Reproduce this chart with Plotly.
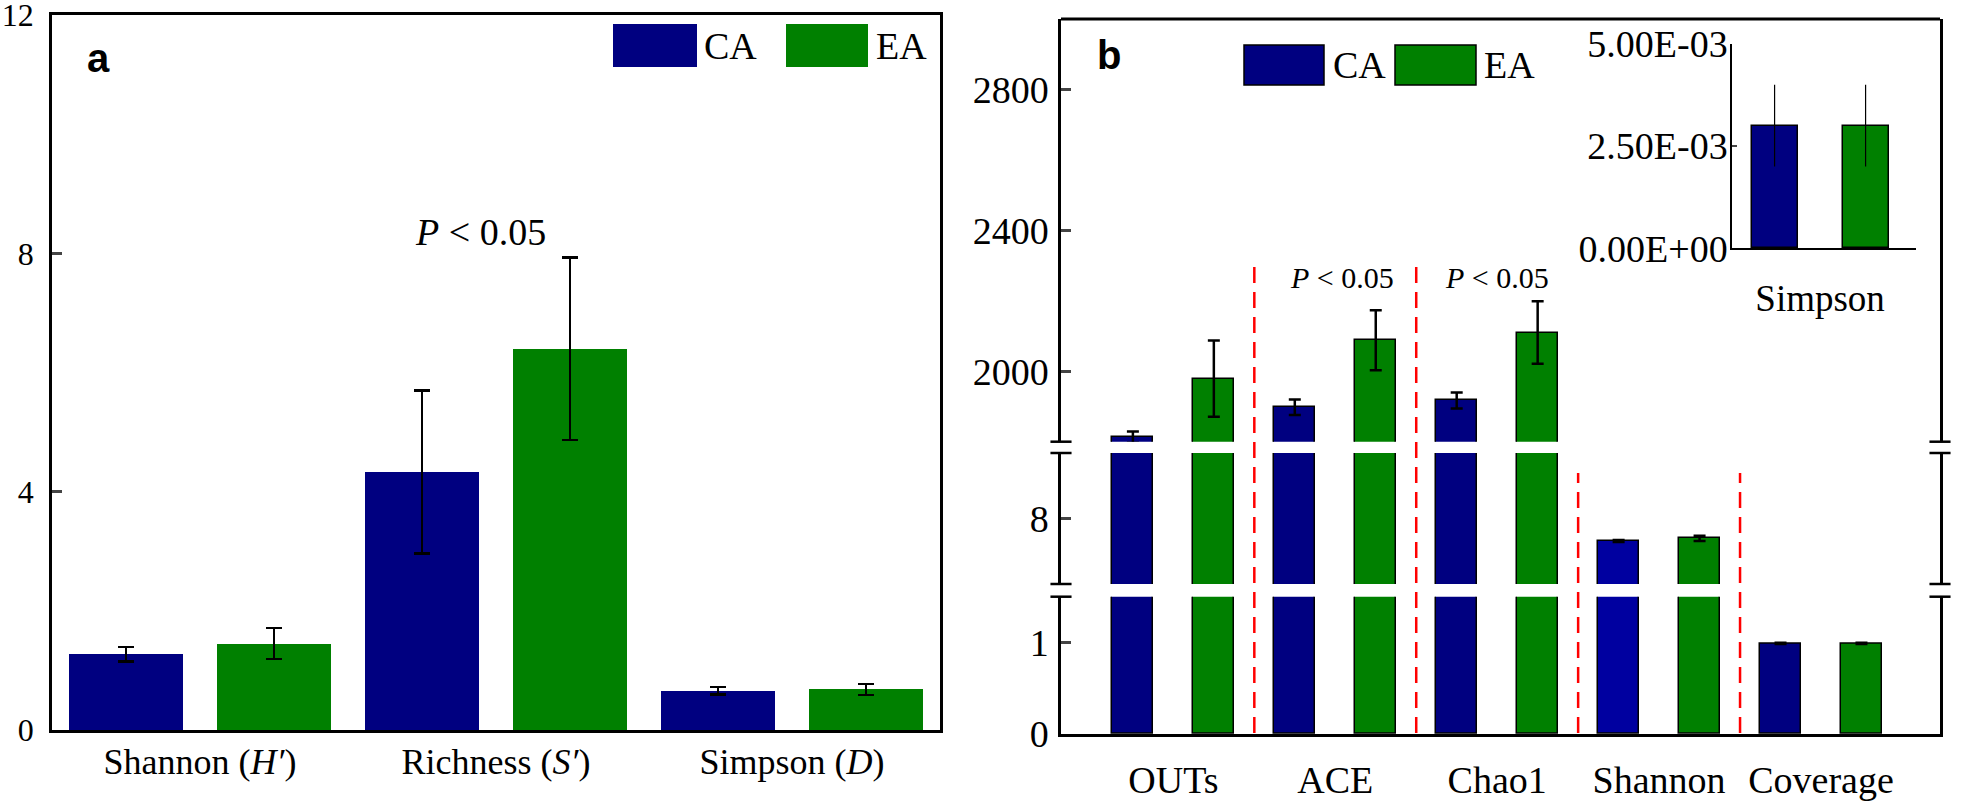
import plotly.graph_objects as go

# panel a
a_metrics = ["Shannon", "Richness", "Simpson"]
a_labels = ["Shannon (<i>H′</i>)", "Richness (<i>S′</i>)", "Simpson (<i>D</i>)"]
a_ca = [1.27, 4.33, 0.66]
a_ca_err = [0.12, 1.37, 0.065]
a_ea = [1.45, 6.40, 0.68]
a_ea_err = [0.26, 1.53, 0.095]

# panel b (broken y axis)
b_metrics = ["OUTs", "ACE", "Chao1", "Shannon", "Coverage"]
b_ca = [1813, 1898, 1917, 7.31, 0.99]
b_ca_err = [16, 22, 23, 0.03, 0.006]
b_ea = [1979, 2088, 2110, 7.39, 0.99]
b_ea_err = [108, 85, 89, 0.08, 0.006]

# inset
inset_metric = ["Simpson"]
inset_ca = [0.0030]
inset_ca_err = [0.001]
inset_ea = [0.0030]
inset_ea_err = [0.001]

NAVY = "#000080"
GREEN = "#008000"
SERIF = "Liberation Serif"

W, H = 1961, 804


def fx(px):
    return px / W


def fy(py):
    return 1 - py / H


fig = go.Figure()


def add_pair(x, ca, ca_err, ea, ea_err, xa, ya, w, line_w, ebar_w, cap, ca_colors=None):
    fig.add_trace(go.Bar(
        x=x, y=ca, xaxis=xa, yaxis=ya, width=w, offset=-0.25 - w / 2,
        marker=dict(color=ca_colors or NAVY, line=dict(color="black", width=line_w)),
        error_y=dict(type="data", array=ca_err, color="black", thickness=ebar_w, width=cap),
        showlegend=False))
    fig.add_trace(go.Bar(
        x=x, y=ea, xaxis=xa, yaxis=ya, width=w, offset=0.25 - w / 2,
        marker=dict(color=GREEN, line=dict(color="black", width=line_w)),
        error_y=dict(type="data", array=ea_err, color="black", thickness=ebar_w, width=cap),
        showlegend=False))


add_pair(a_metrics, a_ca, a_ca_err, a_ea, a_ea_err, "x", "y", 0.385, 0, 2.5, 8)
b_ca_colors = [NAVY, NAVY, NAVY, "#0000a0", NAVY]
for ya in ["y2", "y3", "y4"]:
    add_pair(b_metrics, b_ca, b_ca_err, b_ea, b_ea_err, "x2", ya, 0.253, 1.5, 2.5, 6, b_ca_colors)
add_pair(inset_metric, inset_ca, inset_ca_err, inset_ea, inset_ea_err, "x3", "y5", 0.253, 1.5, 1.2, 0)

font_a = dict(family=SERIF, size=32, color="black")
font_b = dict(family=SERIF, size=38, color="black")


def seg_axis(top, bottom, rng, vals):
    return dict(domain=[fy(bottom), fy(top)], anchor="x2", range=rng, tickvals=vals,
                showline=True, mirror=True, linecolor="black", linewidth=2.5, ticks="inside",
                ticklen=10, tickwidth=3, showgrid=False, zeroline=False, tickfont=font_b,
                ticklabelstandoff=2, automargin=False, ticklabeloverflow="allow")


fig.update_layout(
    width=W, height=H, margin=dict(l=0, r=0, t=0, b=0, autoexpand=False),
    paper_bgcolor="white", plot_bgcolor="rgba(0,0,0,0)",
    barmode="overlay", bargap=0, bargroupgap=0,
    font=dict(family=SERIF, color="black"),
    xaxis=dict(domain=[fx(52), fx(940)], anchor="y", type="category", range=[-0.5, 2.5],
               tickvals=a_metrics, ticktext=a_labels, showline=True, mirror=True,
               linecolor="black", linewidth=3, ticks="", showgrid=False,
               tickfont=dict(family=SERIF, size=36), ticklabelstandoff=-2, automargin=False,
               ticklabeloverflow="allow"),
    yaxis=dict(domain=[fy(730), fy(15)], anchor="x", range=[0, 12], tickvals=[0, 4, 8, 12],
               showline=True, mirror=True, linecolor="black", linewidth=2.5, ticks="inside",
               ticklen=10, tickwidth=3, showgrid=False, zeroline=False, tickfont=font_a,
               ticklabelstandoff=9, automargin=False, ticklabeloverflow="allow"),
    xaxis2=dict(domain=[fx(1061), fx(1940)], anchor="y2", type="category",
                range=[-0.694, 4.735], showline=True, linecolor="black", linewidth=3,
                ticks="", showgrid=False, tickfont=dict(family=SERIF, size=38),
                ticklabelstandoff=10, automargin=False, ticklabeloverflow="allow"),
    yaxis2=seg_axis(596.7, 734, [0, 1.5], [0, 1]),
    yaxis3=seg_axis(453, 584, [6, 10], [8]),
    yaxis4=seg_axis(19, 441.7, [1800, 3000], [2000, 2400, 2800]),
    xaxis3=dict(domain=[fx(1732), fx(1916)], anchor="y5", type="category",
                range=[-0.484, 0.527], showline=True, linecolor="black", linewidth=2,
                ticks="", showgrid=False, tickfont=dict(family=SERIF, size=37),
                ticklabelstandoff=16, automargin=False),
    yaxis5=dict(domain=[fy(248.3), fy(44)], anchor="x3", range=[0, 0.005],
                tickvals=[0, 0.0025, 0.005], ticktext=["0.00E+00", "2.50E-03", "5.00E-03"],
                showline=True, linecolor="black", linewidth=1.5, ticks="inside", ticklen=5,
                tickwidth=1.5, showgrid=False, zeroline=False,
                tickfont=dict(family=SERIF, size=38), ticklabelstandoff=-5, automargin=False,
                ticklabeloverflow="allow"),
)

shapes = []
# top border of panel b
shapes.append(dict(type="line", xref="x2 domain", yref="y4 domain", x0=0, x1=1, y0=1, y1=1,
                   line=dict(color="black", width=3)))
# break caps on the axis segments
for ya, yy in [("y4", 0), ("y3", 1), ("y3", 0), ("y2", 1)]:
    for xx, dx in [(0, 0.012), (1, -0.012)]:
        shapes.append(dict(type="line", xref="x2 domain", yref=ya + " domain",
                           x0=xx - dx, x1=xx + dx, y0=yy, y1=yy,
                           line=dict(color="black", width=2.5)))
# red dashed separators
for xv, ytop in [(0.5, 265), (1.5, 265), (2.5, 473), (3.5, 473)]:
    shapes.append(dict(type="line", xref="x2", yref="paper", x0=xv, x1=xv,
                       y0=fy(733), y1=fy(ytop),
                       line=dict(color="red", width=2.5, dash="16px,9px")))
# legend keys
for x0, x1, y0, y1, col, lw in [
    (613, 697, 24, 67, NAVY, 0), (786, 868, 24, 67, GREEN, 0),
    (1244, 1324, 45, 85, NAVY, 1.5), (1395, 1476, 45, 85, GREEN, 1.5),
]:
    shapes.append(dict(type="rect", xref="paper", yref="paper", x0=fx(x0), x1=fx(x1),
                       y0=fy(y1), y1=fy(y0), fillcolor=col,
                       line=dict(color="black", width=lw)))
fig.update_layout(shapes=shapes)

for text, px_, py_ in [("CA", 730, 45.5), ("EA", 901, 45.5), ("CA", 1359, 65), ("EA", 1509, 65)]:
    fig.add_annotation(text=text, xref="paper", yref="paper", x=fx(px_), y=fy(py_),
                       showarrow=False, xanchor="center", yanchor="middle",
                       font=dict(family=SERIF, size=38, color="black"))
for text, px_, py_ in [("<b>a</b>", 98.5, 58), ("<b>b</b>", 1109, 55)]:
    fig.add_annotation(text=text, xref="paper", yref="paper", x=fx(px_), y=fy(py_),
                       xanchor="center", yanchor="middle", showarrow=False,
                       font=dict(family="Liberation Sans", size=40, color="black"))
fig.add_annotation(text="<i>P</i> < 0.05", xref="x", yref="y", x=0.946, y=8.36,
                   xanchor="center", yanchor="middle", showarrow=False,
                   font=dict(family=SERIF, size=38, color="black"))
for xv in [1.04, 2.0]:
    fig.add_annotation(text="<i>P</i> < 0.05", xref="x2", yref="y4", x=xv, y=2265,
                       xanchor="center", yanchor="middle", showarrow=False,
                       font=dict(family=SERIF, size=30, color="black"))

# drop the default 8px body margin so the figure sits at the page corner
fig.write_html("out.html", config={"displayModeBar": False},
               post_script="document.body.style.margin = '0';")
